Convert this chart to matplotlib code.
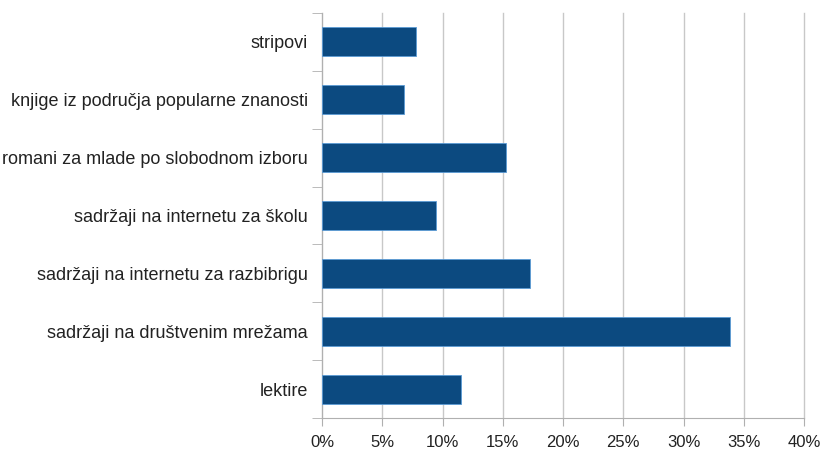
import numpy as np
import matplotlib
matplotlib.use("Agg")
import matplotlib.pyplot as plt
from matplotlib.ticker import FixedLocator, PercentFormatter

# podaci (odozgo prema dolje)
categories = [
    "stripovi",
    "knjige iz područja popularne znanosti",
    "romani za mlade po slobodnom izboru",
    "sadržaji na internetu za školu",
    "sadržaji na internetu za razbibrigu",
    "sadržaji na društvenim mrežama",
    "lektire",
]
values = [7.8, 6.8, 15.3, 9.5, 17.3, 33.9, 11.5]
x_ticks = [0, 5, 10, 15, 20, 25, 30, 35, 40]

plt.rcParams['font.family'] = ['Liberation Sans', 'DejaVu Sans']

fig = plt.figure(figsize=(8.36, 4.49), dpi=100)
ax = fig.add_axes([322 / 836, 1 - 418 / 449, (804 - 322) / 836, (418 - 13) / 449])

y = np.arange(len(categories))
ax.barh(y, values, height=0.5, color="#0c4a80", edgecolor="#5b9bd5", linewidth=0.6, zorder=3)

ax.set_ylim(len(categories) - 0.5, -0.5)
ax.set_xlim(0, 40)
ax.set_yticks(y)
ax.set_yticklabels(categories, fontsize=13, color="#222222")
ax.yaxis.set_minor_locator(FixedLocator(np.arange(-0.5, len(categories), 1)))
ax.tick_params(axis="y", which="major", length=0, pad=10)
ax.tick_params(axis="y", which="minor", length=7, color="#b0b0b0")

ax.set_xticks(x_ticks)
ax.xaxis.set_major_formatter(PercentFormatter(decimals=0))
ax.tick_params(axis="x", length=6, color="#b0b0b0", labelsize=12, labelcolor="#222222", pad=6)

ax.grid(axis="x", color="#c8c8c8", linewidth=1, zorder=0, clip_on=False)
for side in ["top", "right"]:
    ax.spines[side].set_visible(False)
ax.spines["left"].set_color("#b0b0b0")
ax.spines["bottom"].set_color("#b0b0b0")

fig.savefig("out.png", dpi=100)
